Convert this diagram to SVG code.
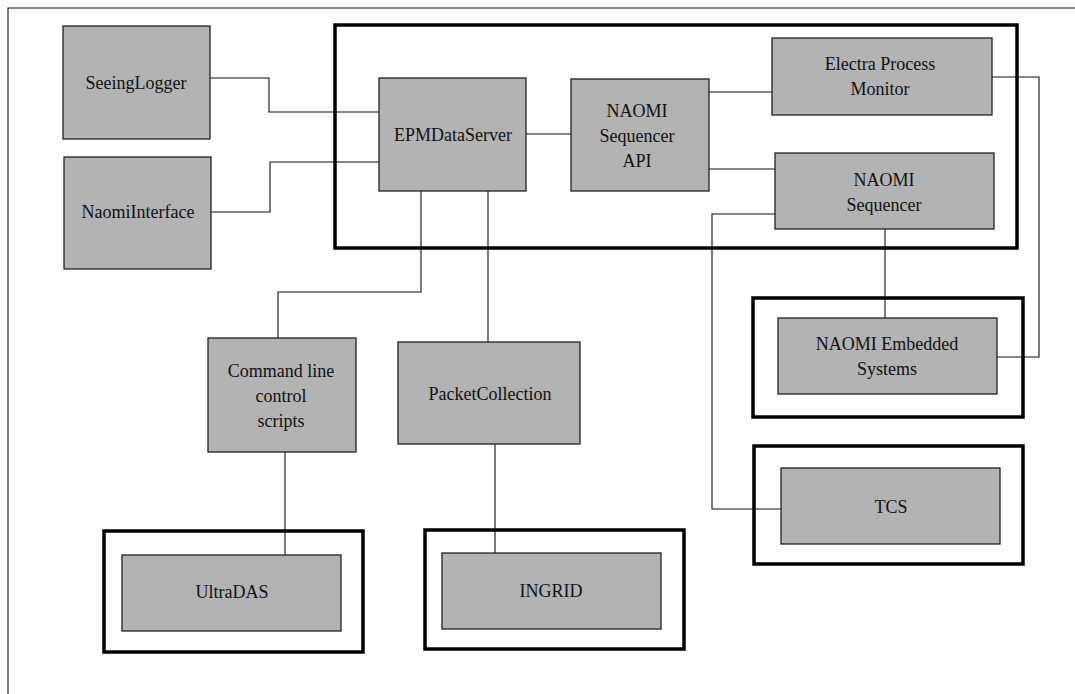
<svg xmlns="http://www.w3.org/2000/svg" width="1075" height="694" viewBox="0 0 1075 694">
<style>
.box{fill:#b3b3b3;stroke:#222;stroke-width:1.3}
.frame{fill:none;stroke:#000;stroke-width:3.5}
.ln{fill:none;stroke:#111;stroke-width:1.1}
text{font-family:'Liberation Serif','Times New Roman',Times,'DejaVu Serif',serif;font-size:18px;fill:#111;text-anchor:middle}
</style>
<rect width="1075" height="694" fill="#fff"/>
<g id="page-border"><path class="ln" d="M8,694 V8 H1075"/></g>
<g id="frames">
<rect id="epm-frame" class="frame" x="335" y="25" width="682" height="223"/>
<rect id="embedded-frame" class="frame" x="753" y="298" width="270" height="119"/>
<rect id="tcs-frame" class="frame" x="754" y="446" width="269" height="118"/>
<rect id="ingrid-frame" class="frame" x="425" y="530" width="259" height="119"/>
<rect id="ultradas-frame" class="frame" x="104" y="531" width="259" height="121"/>
</g>
<g id="connectors">
<path class="ln" d="M210,78 H269 V112 H379"/>
<path class="ln" d="M211,212 H270 V162 H379"/>
<path class="ln" d="M526,134 H571"/>
<path class="ln" d="M709,92 H772"/>
<path class="ln" d="M709,169 H775"/>
<path class="ln" d="M992,77 H1039 V357 H997"/>
<path class="ln" d="M775,214 H712 V509 H781"/>
<path class="ln" d="M885,229 V318"/>
<path class="ln" d="M421,191 V292 H278 V338"/>
<path class="ln" d="M488,191 V342"/>
<path class="ln" d="M285,452 V555"/>
<path class="ln" d="M495,444 V553"/>
</g>
<g font-family="Liberation Serif, Times New Roman, serif" font-size="18">
<g id="seeinglogger"><rect class="box" x="63" y="26" width="147" height="113"/><text x="136" y="89">SeeingLogger</text></g>
<g id="naomiinterface"><rect class="box" x="64" y="157" width="147" height="112"/><text x="138" y="218">NaomiInterface</text></g>
<g id="epmdataserver"><rect class="box" x="379" y="78" width="147" height="113"/><text x="453" y="141">EPMDataServer</text></g>
<g id="sequencer-api"><rect class="box" x="571" y="79" width="138" height="112"/><text x="637" y="117">NAOMI</text><text x="637" y="142">Sequencer</text><text x="637" y="167">API</text></g>
<g id="electra"><rect class="box" x="772" y="38" width="220" height="77"/><text x="880" y="70">Electra Process</text><text x="880" y="95">Monitor</text></g>
<g id="sequencer"><rect class="box" x="775" y="153" width="219" height="76"/><text x="884" y="186">NAOMI</text><text x="884" y="211">Sequencer</text></g>
<g id="embedded"><rect class="box" x="778" y="318" width="219" height="76"/><text x="887" y="350">NAOMI Embedded</text><text x="887" y="375">Systems</text></g>
<g id="tcs"><rect class="box" x="781" y="468" width="219" height="76"/><text x="891" y="513">TCS</text></g>
<g id="commandline"><rect class="box" x="208" y="338" width="148" height="114"/><text x="281" y="377">Command line</text><text x="281" y="402">control</text><text x="281" y="427">scripts</text></g>
<g id="packetcollection"><rect class="box" x="398" y="342" width="182" height="102"/><text x="490" y="400">PacketCollection</text></g>
<g id="ingrid"><rect class="box" x="442" y="553" width="219" height="76"/><text x="551" y="597">INGRID</text></g>
<g id="ultradas"><rect class="box" x="122" y="555" width="219" height="76"/><text x="232" y="598">UltraDAS</text></g>
</g>
</svg>
